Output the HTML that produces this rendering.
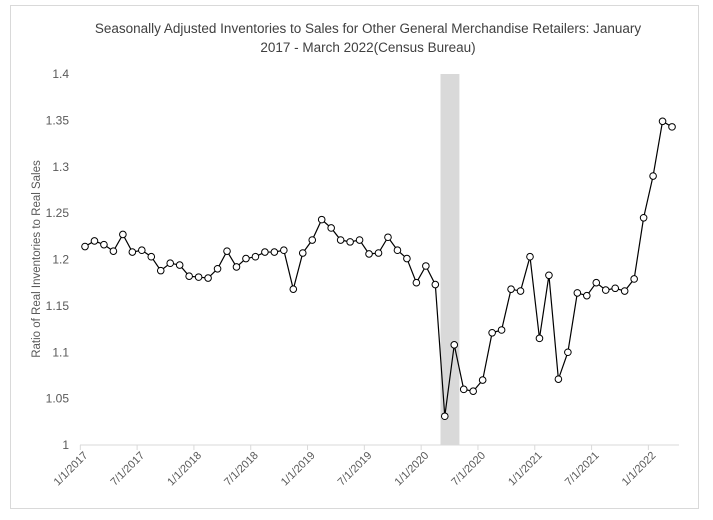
<!DOCTYPE html>
<html><head><meta charset="utf-8"><style>
body{margin:0;background:#fff;}
svg{display:block;font-family:"Liberation Sans",sans-serif;}
</style></head><body>
<svg id="chart" width="713" height="520" viewBox="0 0 713 520">
<rect x="10.5" y="5.5" width="688" height="503" fill="#fff" stroke="#d9d9d9"/>
<text x="368" y="33" text-anchor="middle" font-size="13.5" fill="#404040">Seasonally Adjusted Inventories to Sales for Other General Merchandise Retailers: January</text>
<text x="368" y="52" text-anchor="middle" font-size="13.5" fill="#404040">2017 - March 2022(Census Bureau)</text>
<text transform="translate(40,259) rotate(-90)" text-anchor="middle" font-size="11.5" fill="#595959">Ratio of Real Inventories to Real Sales</text>
<g id="plot"></g>
</svg>
<script>
const values=[1.214,1.220,1.216,1.209,1.227,1.208,1.210,1.203,1.188,1.196,1.194,1.182,1.181,1.180,1.190,1.209,1.192,1.201,1.203,1.208,1.208,1.210,1.168,1.207,1.221,1.243,1.234,1.221,1.219,1.221,1.206,1.207,1.224,1.210,1.201,1.175,1.193,1.173,1.031,1.108,1.060,1.058,1.070,1.121,1.124,1.168,1.166,1.203,1.115,1.183,1.071,1.100,1.164,1.161,1.175,1.167,1.169,1.166,1.179,1.245,1.290,1.349,1.343];
const yTicks=[1,1.05,1.1,1.15,1.2,1.25,1.3,1.35,1.4];
const xTickLabels=["1/1/2017","7/1/2017","1/1/2018","7/1/2018","1/1/2019","7/1/2019","1/1/2020","7/1/2020","1/1/2021","7/1/2021","1/1/2022"];
const recession=[38,40];
const NS="http://www.w3.org/2000/svg";
const g=document.getElementById('plot');
const x=i=>85+i*9.468;
const y=v=>445-(v-1)*927.5;
function mk(t,a){const e=document.createElementNS(NS,t);for(const k in a)e.setAttribute(k,a[k]);g.appendChild(e);return e;}
let band=mk('rect',{x:x(recession[0])-4.3,y:y(1.4),width:(recession[1]-recession[0])*9.468,height:y(1)-y(1.4),fill:'#d9d9d9'});


let ax=mk('line',{x1:80,x2:679,y1:445,y2:445,stroke:'#d9d9d9'});


yTicks.forEach(v=>{const t=mk('text',{x:69,y:y(v)+4,'text-anchor':'end','font-size':'12',fill:'#595959'});t.textContent=String(v);

});
xTickLabels.forEach((s,k)=>{const tx=x(k*6)-4.7;
const tk=mk('line',{x1:tx,x2:tx,y1:445,y2:450,stroke:'#d9d9d9'});


const t=mk('text',{x:0,y:0,'text-anchor':'end','font-size':'11','fill':'#595959',transform:`translate(${tx+8},${456}) rotate(-45)`});t.textContent=s;

});
const pl=mk('polyline',{points:values.map((v,i)=>x(i)+','+y(v)).join(' '),fill:'none',stroke:'#000','stroke-width':'1.2'});


values.forEach((v,i)=>{const c=mk('circle',{cx:x(i),cy:y(v),r:3.3,fill:'#fff',stroke:'#000','stroke-width':'1'});

});
</script>
</body></html>
